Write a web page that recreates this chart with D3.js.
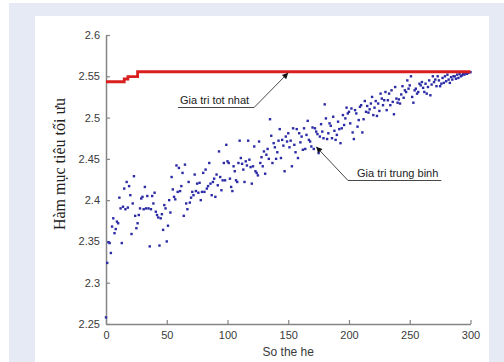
<!DOCTYPE html>
<html>
<head>
<meta charset="utf-8">
<script src="https://cdn.jsdelivr.net/npm/d3@7"></script>
<style>
  html, body { margin: 0; padding: 0; background: #ffffff; }
  svg { display: block; }
</style>
</head>
<body>
<svg id="chart" width="504" height="362"></svg>
<script>
// ---- data ----
const yTicks = [2.25, 2.3, 2.35, 2.4, 2.45, 2.5, 2.55, 2.6];
const yTickLabels = ["2.25", "2.3", "2.35", "2.4", "2.45", "2.5", "2.55", "2.6"];
const xTicks = [0, 50, 100, 150, 200, 250, 300];
const xTickLabels = ["0", "50", "100", "150", "200", "250", "300"];

// best value (step line)
const bestGen = [0, 15, 18, 26, 300];
const bestVal = [2.5434, 2.5467, 2.5495, 2.5555, 2.5555];

// mean value per generation 0..300
const meanVal = [
  2.258, 2.324, 2.349, 2.348, 2.336, 2.368, 2.378, 2.360, 2.365, 2.374,
  2.372, 2.403, 2.390, 2.348, 2.392, 2.414, 2.389, 2.422, 2.391, 2.417,
  2.406, 2.359, 2.396, 2.429, 2.381, 2.366, 2.372, 2.382, 2.390, 2.402,
  2.404, 2.389, 2.416, 2.390, 2.405, 2.390, 2.344, 2.389, 2.405, 2.396,
  2.409, 2.386, 2.382, 2.379, 2.345, 2.378, 2.383, 2.364, 2.394, 2.390,
  2.350, 2.369, 2.400, 2.385, 2.428, 2.413, 2.404, 2.401, 2.442, 2.410,
  2.439, 2.411, 2.417, 2.433, 2.381, 2.443, 2.396, 2.389, 2.422, 2.397,
  2.403, 2.410, 2.406, 2.431, 2.411, 2.420, 2.409, 2.421, 2.400, 2.410,
  2.433, 2.410, 2.437, 2.414, 2.417, 2.445, 2.420, 2.406, 2.422, 2.426,
  2.404, 2.431, 2.418, 2.459, 2.428, 2.412, 2.424, 2.445, 2.424, 2.467,
  2.447, 2.445, 2.426, 2.416, 2.411, 2.441, 2.435, 2.424, 2.422, 2.445,
  2.472, 2.451, 2.444, 2.437, 2.422, 2.447, 2.442, 2.472, 2.449, 2.440,
  2.420, 2.441, 2.465, 2.435, 2.433, 2.430, 2.471, 2.445, 2.452, 2.441,
  2.459, 2.432, 2.455, 2.462, 2.450, 2.498, 2.478, 2.445, 2.469, 2.464,
  2.450, 2.458, 2.472, 2.486, 2.451, 2.473, 2.466, 2.435, 2.477, 2.471,
  2.481, 2.464, 2.472, 2.441, 2.487, 2.467, 2.458, 2.486, 2.451, 2.481,
  2.470, 2.477, 2.461, 2.487, 2.462, 2.479, 2.496, 2.473, 2.471, 2.465,
  2.488, 2.462, 2.487, 2.483, 2.480, 2.457, 2.477, 2.492, 2.483, 2.475,
  2.516, 2.499, 2.474, 2.481, 2.493, 2.490, 2.475, 2.501, 2.484, 2.473,
  2.479, 2.495, 2.486, 2.469, 2.487, 2.503, 2.491, 2.499, 2.512, 2.505,
  2.507, 2.493, 2.511, 2.482, 2.474, 2.509, 2.505, 2.489, 2.497, 2.513,
  2.515, 2.482, 2.498, 2.520, 2.507, 2.514, 2.506, 2.510, 2.517, 2.525,
  2.503, 2.512, 2.520, 2.502, 2.517, 2.508, 2.529, 2.523, 2.515, 2.521,
  2.531, 2.509, 2.521, 2.529, 2.515, 2.533, 2.519, 2.504, 2.537, 2.523,
  2.518, 2.522, 2.517, 2.528, 2.538, 2.524, 2.533, 2.531, 2.545, 2.535,
  2.539, 2.550, 2.525, 2.518, 2.533, 2.535, 2.529, 2.531, 2.541, 2.539,
  2.543, 2.536, 2.531, 2.541, 2.529, 2.537, 2.545, 2.527, 2.540, 2.550,
  2.543, 2.546, 2.538, 2.550, 2.545, 2.538, 2.541, 2.548, 2.542, 2.550,
  2.544, 2.552, 2.546, 2.542, 2.549, 2.546, 2.550, 2.550, 2.547, 2.552,
  2.548, 2.553, 2.550, 2.551, 2.553, 2.552, 2.554, 2.553, 2.554, 2.555,
  2.555
];

const annBest = { gen: 150, val: 2.5555, label: "Gia tri tot nhat" };
const annMean = { gen: 173, val: 2.4647, label: "Gia tri trung binh" };

const xLabel = "So the he";
const yLabel = "Hàm mục tiêu tối ưu";

// ---- drawing ----
const svg = d3.select("#chart");

// frame backgrounds
svg.append("rect").attr("x", 9).attr("y", 3).attr("width", 495).attr("height", 359).attr("fill", "#e5eaf5");
svg.append("rect").attr("x", 35).attr("y", 16).attr("width", 454).attr("height", 346).attr("fill", "#ffffff");

const x = d3.scaleLinear().domain([0, 300]).range([106, 470.5]);
const y = d3.scaleLinear().domain([2.25, 2.6]).range([324, 35]);

const axisColor = "#858585";
const textColor = "#3a3a3a";

// y axis
const yAxis = svg.append("g")
  .attr("transform", `translate(${x(0)},0)`)
  .call(d3.axisLeft(y).tickValues(yTicks)
        .tickFormat((d, i) => yTickLabels[i])
        .tickSizeInner(-4).tickSizeOuter(0).tickPadding(6));
// x axis
const xAxis = svg.append("g")
  .attr("transform", `translate(0,${y(2.25)})`)
  .call(d3.axisBottom(x).tickValues(xTicks)
        .tickFormat((d, i) => xTickLabels[i])
        .tickSizeInner(-4).tickSizeOuter(0).tickPadding(7));

[yAxis, xAxis].forEach(g => {
  g.select(".domain").attr("stroke", axisColor).attr("stroke-width", 1.5);
  g.selectAll(".tick line").attr("stroke", axisColor).attr("stroke-width", 1.2);
  g.selectAll(".tick text").attr("fill", textColor)
    .style("font-family", "Liberation Sans, Arial, sans-serif").style("font-size", "11px");
});

// mean scatter
svg.append("g").selectAll("rect")
  .data(meanVal)
  .join("rect")
  .attr("x", (d, i) => x(i) - 1.2)
  .attr("y", d => y(d) - 1.2)
  .attr("width", 2.4).attr("height", 2.4)
  .attr("fill", "#2b2ba6");

// best line
const bestData = bestGen.map((g, i) => [g, bestVal[i]]);
svg.append("path")
  .datum(bestData)
  .attr("d", d3.line().x(d => x(d[0])).y(d => y(d[1])).curve(d3.curveStepAfter))
  .attr("fill", "none")
  .attr("stroke", "#d91e1e")
  .attr("stroke-width", 2.8);

// arrowhead marker
const defs = svg.append("defs");
defs.append("marker")
  .attr("id", "arr").attr("viewBox", "0 0 10 10")
  .attr("refX", 10).attr("refY", 5)
  .attr("markerWidth", 9).attr("markerHeight", 6)
  .attr("markerUnits", "userSpaceOnUse")
  .attr("orient", "auto")
  .append("path").attr("d", "M0,0 L10,5 L0,10 z").attr("fill", "#111");

const annFont = "Liberation Sans, Arial, sans-serif";

// annotation: best
{
  const tx = 180, ty = 104;
  const t = svg.append("text").attr("x", tx).attr("y", ty)
    .attr("fill", "#222").style("font-family", annFont).style("font-size", "11px")
    .text(annBest.label);
  const w = t.node().getComputedTextLength();
  const ux0 = tx - 2, ux1 = tx + w + 5, uy = ty + 3.5;
  svg.append("path")
    .attr("d", `M${ux0},${uy} L${ux1},${uy} L${x(annBest.gen)},${y(annBest.val) + 1}`)
    .attr("fill", "none").attr("stroke", "#333").attr("stroke-width", 0.9)
    .attr("marker-end", "url(#arr)");
}
// annotation: mean
{
  const tx = 357, ty = 177;
  const t = svg.append("text").attr("x", tx).attr("y", ty)
    .attr("fill", "#222").style("font-family", annFont).style("font-size", "11px")
    .text(annMean.label);
  const w = t.node().getComputedTextLength();
  const ux0 = tx - 9, ux1 = tx + w + 3, uy = ty + 3.5;
  svg.append("path")
    .attr("d", `M${ux1},${uy} L${ux0},${uy} L${x(annMean.gen)},${y(annMean.val)}`)
    .attr("fill", "none").attr("stroke", "#333").attr("stroke-width", 0.9)
    .attr("marker-end", "url(#arr)");
}

// axis titles
svg.append("text")
  .attr("x", (x(0) + x(300)) / 2).attr("y", 356)
  .attr("text-anchor", "middle").attr("fill", textColor)
  .style("font-family", annFont).style("font-size", "12px")
  .text(xLabel);

svg.append("text")
  .attr("transform", `translate(65,164) rotate(-90)`)
  .attr("text-anchor", "middle").attr("fill", "#222")
  .style("font-family", "Liberation Serif, Times New Roman, serif").style("font-size", "16px")
  .text(yLabel);
</script>
</body>
</html>
